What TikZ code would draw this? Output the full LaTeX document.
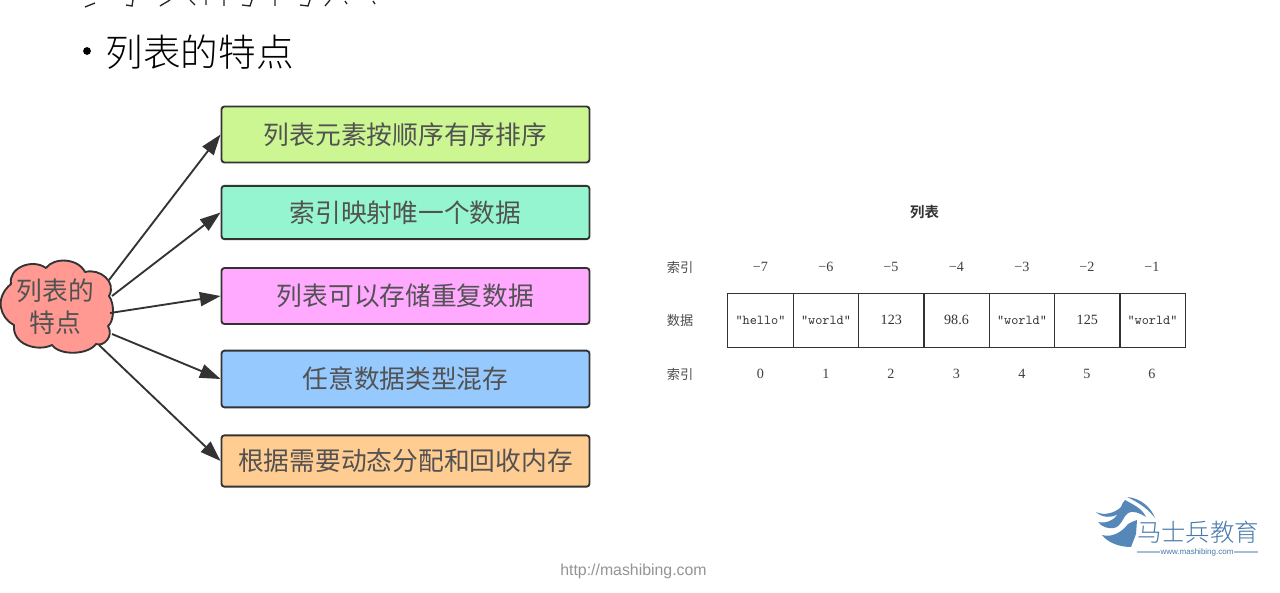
\documentclass[tikz,border=0pt]{standalone}
\usepackage{fontspec}
\usetikzlibrary{arrows.meta}
\setmainfont{Liberation Sans}
\newfontfamily\cjk{Noto Sans CJK SC}[BoldFont={Noto Sans CJK SC Bold}]
\newfontfamily\cjkl{Noto Sans CJK SC Light}
\newfontfamily\digitf{Liberation Serif}
\definecolor{inkc}{HTML}{333333}
\definecolor{logoc}{RGB}{85,135,185}
\definecolor{logot}{RGB}{70,120,170}
\definecolor{logol}{RGB}{165,190,215}
\definecolor{cardA}{RGB}{204,246,146}
\definecolor{cardB}{RGB}{149,245,208}
\definecolor{cardC}{RGB}{255,170,255}
\definecolor{cardD}{RGB}{150,202,255}
\definecolor{cardE}{RGB}{255,204,146}
\definecolor{cloudc}{RGB}{255,153,145}
\tikzset{
 x=0.75pt,y=-0.75pt,
 card/.style={draw=inkc,line width=1.4pt,rounded corners=2.2pt,anchor=center,inner sep=0,font=\cjk\fontsize{19.3}{22}\selectfont,text=inkc!85!white},
 conn/.style={draw=inkc,line width=1.4pt,-{Triangle[length=15.5pt,width=10.5pt]}},
 cell/.style={draw=black!80,line width=0.6pt,minimum width=49.2pt,minimum height=40.5pt,inner sep=0,font=\digitf\fontsize{10.6}{11}\selectfont,text=black!80},
 lab/.style={font=\cjk\fontsize{9.9}{11}\selectfont,text=black!70,inner sep=0},
 num/.style={font=\digitf\fontsize{10.6}{11}\selectfont,text=black!75,inner sep=0},
}
\newcommand{\wordtxt}[1]{{\ttfamily\fontsize{10.2}{11}\selectfont #1}}
\begin{document}
\begin{tikzpicture}
\useasboundingbox (0,0) rectangle (1280,592);
\fill[white] (0,0) rectangle (1280,592);
\draw[black!85,line width=1pt] (85,7) -- (95,3) (126,5) -- (132,6) -- (133,0) (160,6) -- (170,0) (190,0) -- (195,5) (206,0) -- (206,5) (224,0) -- (224,6) (242,5) -- (250,6) -- (252,0) (275,0) -- (275,6) (300,5) -- (308,6) -- (310,0) (325,6) -- (330,0) (345,1) -- (347,4) (373,1) -- (375,4);
\fill[black] (87,51) circle (3.9);
\node[anchor=west,inner sep=0,font=\cjkl\fontsize{28.2}{32}\selectfont,text=black] (title) at (105.5,52.5) {列表的特点};

\node[card,fill=cardA,minimum width=276pt,minimum height=42pt] (a) at (405.5,134.5) {列表元素按顺序有序排序};
\node[card,fill=cardB,minimum width=276pt,minimum height=40pt] (b) at (405.5,212.5) {索引映射唯一个数据};
\node[card,fill=cardC,minimum width=276pt,minimum height=42pt] (c) at (405.5,296) {列表可以存储重复数据};
\node[card,fill=cardD,minimum width=276pt,minimum height=42.5pt] (d) at (405.5,379) {任意数据类型混存};
\node[card,fill=cardE,minimum width=276pt,minimum height=38.5pt] (e) at (405.5,461) {根据需要动态分配和回收内存};

\draw[draw=inkc,line width=1.4pt,fill=cloudc,line join=round] (11,284)
 .. controls (8,268) and (32,258) .. (46,268)
 .. controls (54,257) and (78,258) .. (85,272)
 .. controls (100,268) and (117,282) .. (109,296)
 .. controls (115,304) and (114,322) .. (108,326)
 .. controls (114,336) and (104,347) .. (96,344)
 .. controls (88,355) and (60,356) .. (52,345)
 .. controls (38,352) and (12,345) .. (14,325)
 .. controls (0,318) and (-6,298) .. (11,284) -- cycle;
\node[inner sep=0,align=center,font=\cjk\fontsize{19.3}{23.5}\selectfont,text=inkc!85!white] (m) at (55.5,306.5) {列表的\\特点};

\coordinate (s1) at (109,280);
\coordinate (s2) at (112,296);
\coordinate (s3) at (110,313);
\coordinate (s4) at (112,334);
\coordinate (s5) at (99,345);
\draw[conn] (s1) -- (a.west);
\draw[conn] (s2) -- (b.west);
\draw[conn] (s3) -- (c.west);
\draw[conn] (s4) -- (d.west);
\draw[conn] (s5) -- (e.west);

\node[font=\cjk\bfseries\fontsize{10.8}{12}\selectfont,inner sep=0,text=black!80] (tt) at (924.5,212) {列表};
\node[lab] (l1) at (680,267) {索引};
\node[lab] (l2) at (680,320) {数据};
\node[lab] (l3) at (680,374) {索引};
\foreach \n/\x/\t in {1/760.5/−7,2/826/−6,3/891/−5,4/956.5/−4,5/1022/−3,6/1087/−2,7/1152/−1}
  \node[num] (u\n) at (\x,267) {\t};
\foreach \n/\x/\t in {1/760.5/{\wordtxt{"hello"}},2/826/{\wordtxt{"world"}},3/891.3/123,4/956.5/98.6,5/1022/{\wordtxt{"world"}},6/1087.3/125,7/1152.5/{\wordtxt{"world"}}}
  \node[cell] (c\n) at (\x,320) {\t};
\foreach \n/\x/\t in {1/760.5/0,2/826/1,3/891/2,4/956.5/3,5/1022/4,6/1087/5,7/1152/6}
  \node[num] (v\n) at (\x,374) {\t};

\node[inner sep=0,text=black!42,font=\fontsize{11.9}{13}\selectfont] (url) at (633.5,571.5) {http://mashibing.com};

% logo
\fill[logoc] (1127,497) .. controls (1140,498) and (1151,507) .. (1155,518) .. controls (1149,510) and (1140,503) .. (1127,497) -- cycle;
\fill[logoc] (1096,512) .. controls (1104,516) and (1115,513) .. (1121,507) .. controls (1122,504) and (1123,502) .. (1125,500) .. controls (1132,504) and (1142,508) .. (1146,517) .. controls (1140,513) and (1132,510) .. (1128,513) .. controls (1122,518) and (1122,526) .. (1114,528) .. controls (1108,529) and (1102,527) .. (1098,522) .. controls (1106,524) and (1114,520) .. (1118,514) .. controls (1112,518) and (1102,518) .. (1096,512) -- cycle;
\fill[logoc] (1102,535) .. controls (1112,538) and (1122,532) .. (1128,524) .. controls (1131,522) and (1134,521) .. (1137,520) -- (1136,534) -- (1131,547) .. controls (1120,547) and (1108,543) .. (1102,535) -- cycle;
\node[inner sep=0,text=logot,font=\cjkl\fontsize{18.3}{20}\selectfont] (brand) at (1198,532) {马士兵教育};
\node[inner sep=0,text=logot,font=\fontsize{6}{7}\selectfont] (site) at (1197,552) {www.mashibing.com};
\draw[logol,line width=0.8pt] (1137,552) -- (site.west);
\draw[logol,line width=0.8pt] (site.east) -- (1258,552);
\end{tikzpicture}
\end{document}
